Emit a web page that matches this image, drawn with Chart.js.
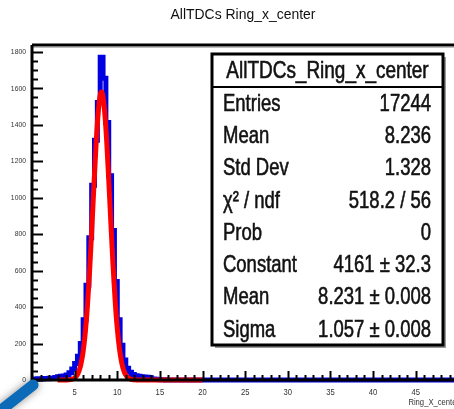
<!DOCTYPE html>
<html>
<head>
<meta charset="utf-8">
<script src="https://cdn.jsdelivr.net/npm/chart.js@4.4.1/dist/chart.umd.min.js"></script>
<style>
  html, body { margin: 0; padding: 0; background: #fff; }
  #wrap { width: 454px; height: 409px; }
</style>
</head>
<body>
<div id="wrap"><canvas id="hist" width="454" height="409"></canvas></div>
<script>
// histogram AllTDCs Ring_x_center, bins of 1/3 starting at 0
var binWidth = 1 / 3;
var histMax = 50;
var counts = [
  6, 5, 7, 6, 8, 7, 9, 10, 14, 18, 20, 22,
  28, 40, 60, 90, 130, 200, 330, 520, 780, 1068, 1315, 1523,
  1771, 1655, 1413, 1120, 820, 540, 330, 190, 110, 65, 42, 30,
  24, 20, 18, 16, 15, 12, 6, 4, 3, 2, 1, 0
];

// gaussian fit curve
var fitX = [3, 4, 4.5, 5, 5.25, 5.5, 5.75, 6, 6.25, 6.5, 6.75, 7, 7.25, 7.5, 7.75, 8,
  8.15, 8.25, 8.5, 8.75, 9, 9.25, 9.5, 9.75, 10, 10.25, 10.5, 10.75, 11, 11.25,
  11.5, 11.75, 12, 12.5, 20];
var fitY = [0, 0.3, 2, 11, 24, 47, 89, 157, 260, 405, 593, 816, 1054, 1279, 1458, 1562,
  1580, 1572, 1486, 1320, 1101, 863, 635, 439, 285, 174, 100, 54, 27, 13,
  6, 2, 1, 0, 0];

var yTicks = [0, 200, 400, 600, 800, 1000, 1200, 1400, 1600, 1800];
var xTicks = [5, 10, 15, 20, 25, 30, 35, 40, 45];

var statsTitle = "AllTDCs_Ring_x_center";
var statsNames = ["Entries", "Mean", "Std Dev", "\u03c7\u00b2 / ndf", "Prob", "Constant", "Mean", "Sigma"];
var statsValues = ["17244", "8.236", "1.328", "518.2 / 56", "0", "4161 \u00b1 32.3", "8.231 \u00b1 0.008", "1.057 \u00b1 0.008"];

var histData = [];
for (var i = 0; i < counts.length; i++) {
  histData.push({ x: i * binWidth, y: counts[i] });
}
histData.push({ x: counts.length * binWidth, y: 0 });
histData.push({ x: histMax, y: 0 });

var fitData = [];
for (var j = 0; j < fitX.length; j++) {
  fitData.push({ x: fitX[j], y: fitY[j] });
}

function narrowText(ctx, text, x, y, align, sx, bold) {
  ctx.save();
  ctx.translate(x, y);
  ctx.scale(sx, 1);
  ctx.textAlign = align;
  if (bold) {
    ctx.lineWidth = bold;
    ctx.strokeStyle = ctx.fillStyle;
    ctx.strokeText(text, 0, 0);
  }
  ctx.fillText(text, 0, 0);
  ctx.restore();
}

var rootFrame = {
  id: "rootFrame",
  afterDatasetsDraw: function (chart) {
    var ctx = chart.ctx;
    var a = chart.chartArea;
    var xs = chart.scales.x;
    var ys = chart.scales.y;
    ctx.save();
    ctx.strokeStyle = "#000";
    ctx.lineCap = "butt";

    // y ticks, inside
    ctx.lineWidth = 2;
    for (var v = 0; v <= ys.max; v += 50) {
      var py = Math.round(ys.getPixelForValue(v)) + 0.5;
      var len = v % 200 === 0 ? 11 : 6;
      ctx.beginPath();
      ctx.moveTo(a.left, py);
      ctx.lineTo(a.left + len, py);
      ctx.stroke();
    }
    // x ticks, inside
    for (var u = 1; u <= xs.max; u += 1) {
      var px = Math.round(xs.getPixelForValue(u)) + 0.5;
      var l2 = u % 5 === 0 ? 9 : 5;
      ctx.beginPath();
      ctx.moveTo(px, a.bottom);
      ctx.lineTo(px, a.bottom - l2);
      ctx.stroke();
    }

    // frame lines
    ctx.lineWidth = 3;
    ctx.beginPath();
    ctx.moveTo(a.left, a.top);
    ctx.lineTo(a.right, a.top);
    ctx.moveTo(a.left, a.top);
    ctx.lineTo(a.left, a.bottom);
    ctx.lineTo(a.right, a.bottom);
    ctx.stroke();
    ctx.strokeStyle = "rgba(0,0,0,0.25)";
    ctx.lineWidth = 1;
    ctx.beginPath();
    ctx.moveTo(a.left, a.top + 2.5);
    ctx.lineTo(a.right, a.top + 2.5);
    ctx.stroke();

    // tick labels
    ctx.fillStyle = "#333";
    ctx.font = "8px 'Liberation Sans', Arial, sans-serif";
    ctx.textBaseline = "middle";
    yTicks.forEach(function (t) {
      narrowText(ctx, String(t), a.left - 6, ys.getPixelForValue(t), "right", 0.85);
    });
    ctx.font = "9px 'Liberation Sans', Arial, sans-serif";
    xTicks.forEach(function (t) {
      narrowText(ctx, String(t), xs.getPixelForValue(t), a.bottom + 13, "center", 0.85);
    });
    narrowText(ctx, "Ring_X_center", 459, a.bottom + 23, "right", 0.85);
    ctx.restore();
  },
  afterDraw: function (chart) {
    var ctx = chart.ctx;
    ctx.save();

    // title
    ctx.fillStyle = "#111";
    ctx.font = "15px 'Liberation Sans', Arial, sans-serif";
    ctx.textBaseline = "middle";
    narrowText(ctx, "AllTDCs Ring_x_center", 243, 15, "center", 0.93);

    // stats box
    var bx = 212, by = 54, bw = 231, bh = 291;
    ctx.fillStyle = "#9a9a9a";
    ctx.fillRect(bx + 3, by + 3, bw, bh);
    ctx.fillStyle = "#fff";
    ctx.fillRect(bx, by, bw, bh);
    ctx.strokeStyle = "#000";
    ctx.lineWidth = 3;
    ctx.strokeRect(bx, by, bw, bh);
    ctx.lineWidth = 2;
    ctx.beginPath();
    ctx.moveTo(bx, 87);
    ctx.lineTo(bx + bw, 87);
    ctx.stroke();

    ctx.fillStyle = "#111";
    ctx.font = "24px 'Liberation Sans', Arial, sans-serif";
    ctx.textBaseline = "middle";
    narrowText(ctx, statsTitle, bx + bw / 2, 71, "center", 0.79, 0.6);
    var rowH = (by + bh - 87) / statsNames.length;
    for (var k = 0; k < statsNames.length; k++) {
      var ry = 87 + rowH * (k + 0.5) + 1;
      narrowText(ctx, statsNames[k], 223, ry, "left", 0.77, 0.6);
      narrowText(ctx, statsValues[k], 431, ry, "right", 0.77, 0.6);
    }

    // blue pointer in the lower left corner of the slide
    ctx.shadowColor = "rgba(0,0,0,0.45)";
    ctx.shadowBlur = 8;
    ctx.strokeStyle = "#0b6bb8";
    ctx.lineWidth = 11;
    ctx.lineCap = "round";
    ctx.beginPath();
    ctx.moveTo(-4, 414);
    ctx.lineTo(33, 385);
    ctx.stroke();
    ctx.restore();
  }
};

new Chart(document.getElementById("hist"), {
  type: "line",
  data: {
    datasets: [
      {
        label: "fit",
        data: fitData,
        borderColor: "#ff0000",
        borderWidth: 5,
        pointRadius: 0,
        cubicInterpolationMode: "monotone",
        fill: false,
        clip: 6
      },
      {
        label: "AllTDCs Ring_x_center",
        data: histData,
        borderColor: "#0000e0",
        borderWidth: 5,
        pointRadius: 0,
        stepped: true,
        fill: false,
        clip: 6
      }
    ]
  },
  options: {
    responsive: false,
    animation: false,
    layout: { padding: { left: 32, top: 45, right: 0, bottom: 29 } },
    plugins: {
      legend: { display: false },
      tooltip: { enabled: false },
      title: { display: false }
    },
    scales: {
      x: { type: "linear", min: 0, max: 49.5, display: false },
      y: { type: "linear", min: 0, max: 1838, display: false }
    }
  },
  plugins: [rootFrame]
});
</script>
</body>
</html>
